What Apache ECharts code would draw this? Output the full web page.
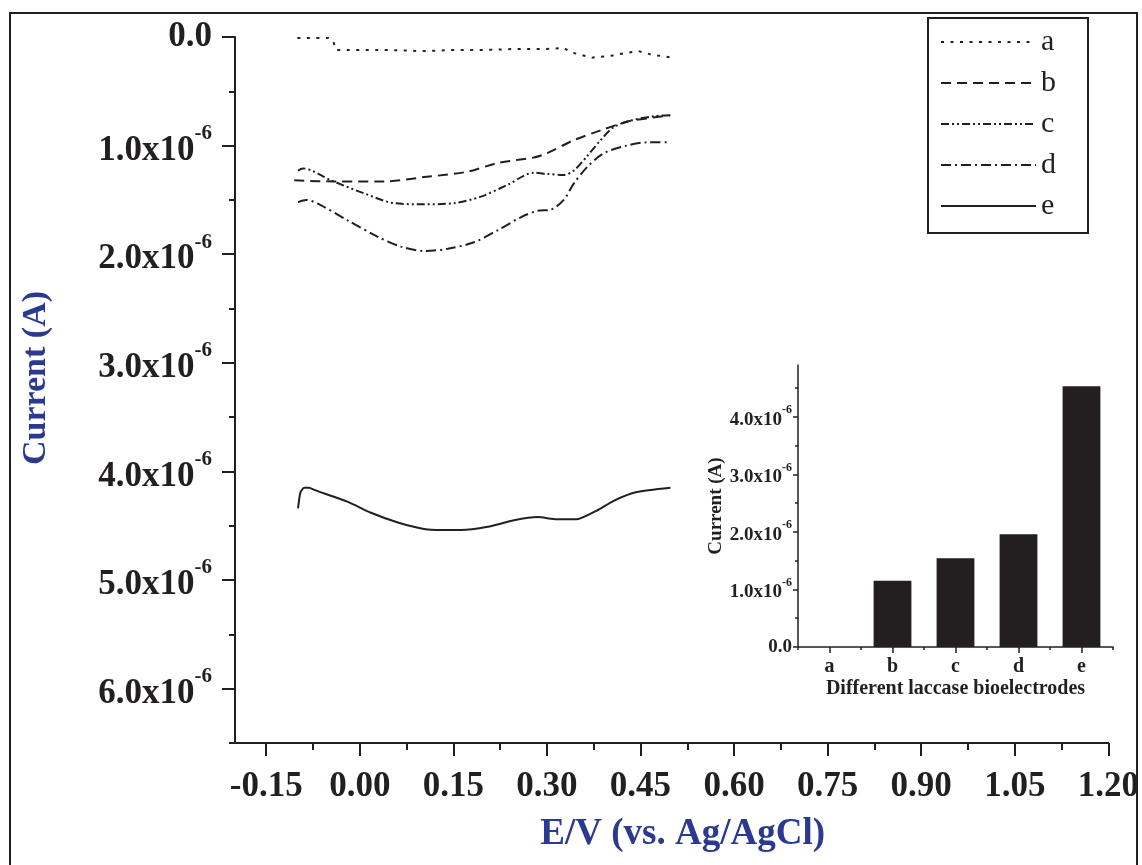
<!DOCTYPE html>
<html><head><meta charset="utf-8">
<script src="https://cdn.jsdelivr.net/npm/echarts@6/dist/echarts.min.js"></script>
<style>html,body{margin:0;padding:0;background:#fff}#c{width:1142px;height:865px}</style>
</head><body><div id="c"></div>
<script>
// Potential E (V) and current in units of 1e-6 A
const curveA = [[-0.1,0.01],[-0.05,0.01],[-0.043,0.03],[-0.038,0.12],[0.0,0.12],[0.05,0.12],[0.1,0.13],[0.15,0.12],[0.2,0.12],[0.25,0.11],[0.3,0.11],[0.327,0.10],[0.338,0.14],[0.372,0.19],[0.407,0.17],[0.423,0.15],[0.447,0.13],[0.466,0.16],[0.5,0.19]];
const curveB = [[-0.105,1.32],[-0.041,1.33],[0.039,1.33],[0.103,1.29],[0.173,1.24],[0.221,1.16],[0.279,1.11],[0.3,1.07],[0.343,0.95],[0.386,0.86],[0.428,0.78],[0.46,0.75],[0.498,0.72]];
const curveC = [[-0.099,1.23],[-0.091,1.21],[-0.046,1.32],[0.007,1.44],[0.055,1.53],[0.103,1.54],[0.151,1.53],[0.194,1.47],[0.237,1.36],[0.279,1.25],[0.3,1.26],[0.327,1.27],[0.343,1.23],[0.364,1.10],[0.386,0.95],[0.407,0.83],[0.434,0.77],[0.471,0.73],[0.498,0.72]];
const curveD = [[-0.099,1.52],[-0.086,1.50],[-0.062,1.55],[-0.019,1.69],[0.029,1.84],[0.066,1.93],[0.103,1.97],[0.141,1.95],[0.183,1.89],[0.221,1.78],[0.258,1.66],[0.285,1.60],[0.306,1.59],[0.327,1.50],[0.343,1.35],[0.364,1.20],[0.391,1.07],[0.428,1.00],[0.46,0.97],[0.498,0.97]];
const curveE = [[-0.099,4.34],[-0.095,4.19],[-0.089,4.15],[-0.081,4.15],[-0.073,4.17],[-0.019,4.28],[0.018,4.38],[0.061,4.47],[0.103,4.53],[0.13,4.54],[0.162,4.54],[0.205,4.51],[0.247,4.45],[0.285,4.42],[0.316,4.44],[0.348,4.44],[0.38,4.36],[0.407,4.27],[0.444,4.19],[0.498,4.15]];
const seriesNames = ['a','b','c','d','e'];

const insetCategories = ['a','b','c','d','e'];
const insetValues = [0, 1.15, 1.54, 1.96, 4.53];

const xMajorTicks = [-0.15, 0, 0.15, 0.3, 0.45, 0.6, 0.75, 0.9, 1.05, 1.2];
const xMinorTicks = [-0.075, 0.075, 0.225, 0.375, 0.525, 0.675, 0.825, 0.975, 1.125];
const yMajorTicks = [0, 1, 2, 3, 4, 5, 6];
const yMinorTicks = [0.5, 1.5, 2.5, 3.5, 4.5, 5.5, 6.5];
const insetYMajor = [0, 1, 2, 3, 4];
const insetYMinor = [0.5, 1.5, 2.5, 3.5, 4.5];

const F = 'Liberation Serif';
const K = '#231f20';
const BLUE = '#2b3990';

function sciRich(big, small, pad) {
  return {
    z: {fontSize: big, fontWeight: 'bold', fontFamily: F, color: K},
    n: {fontSize: big, fontWeight: 'bold', fontFamily: F, color: K, padding: [pad,0,0,0]},
    s: {fontSize: small, fontWeight: 'bold', fontFamily: F, color: K, verticalAlign: 'top'}
  };
}
function sciFmt(v) {
  return v === 0 ? '{z|0.0}' : '{n|' + v.toFixed(1) + 'x10}{s|-6}';
}

const dashes = {
  a: [3, 6.5],
  b: [10, 6],
  c: [8, 3, 2, 3, 2, 3],
  d: [10, 4, 2, 4],
  e: 'solid'
};
const curves = [curveA, curveB, curveC, curveD, curveE];
const smooths = [false, 0.3, 0.3, 0.3, 0.2];

const chart = echarts.init(document.getElementById('c'), null, {renderer: 'canvas'});
const lineSeries = curves.map((d, i) => ({
  name: seriesNames[i], type: 'line', xAxisIndex: 0, yAxisIndex: 0,
  data: d, symbol: 'none', smooth: smooths[i],
  lineStyle: {color: K, width: 2, type: dashes[seriesNames[i]]},
  itemStyle: {color: K}
}));

chart.setOption({
  animation: false,
  backgroundColor: '#fff',
  graphic: [{type: 'rect', silent: true, z: -1,
    shape: {x: 10, y: 13, width: 1127, height: 880},
    style: {fill: 'none', stroke: K, lineWidth: 2}}],
  legend: {
    data: seriesNames, orient: 'vertical', left: 928, top: 18,
    itemStyle: {opacity: 0, borderWidth: 0},
    lineStyle: {opacity: 1},
    itemWidth: 95, itemHeight: 20, itemGap: 11,
    padding: [9, 32, 12, 12], borderColor: K, borderWidth: 2,
    selectedMode: false,
    textStyle: {fontFamily: F, fontSize: 30, color: K}
  },
  grid: [
    {left: 235, top: 37, width: 874, height: 706},
    {left: 798, top: 365, width: 315, height: 282}
  ],
  xAxis: [
    {type: 'value', gridIndex: 0, min: -0.2, max: 1.2, position: 'bottom',
     axisLine: {show: true, onZero: false, lineStyle: {color: K, width: 2}},
     axisTick: {show: true, customValues: xMajorTicks, length: 13, lineStyle: {color: K, width: 2}},
     axisLabel: {customValues: xMajorTicks, formatter: v => v.toFixed(2), margin: 26,
       fontSize: 35, fontWeight: 'bold', fontFamily: F, color: K},
     splitLine: {show: false},
     name: 'E/V (vs. Ag/AgCl)', nameLocation: 'middle', nameGap: 73,
     nameTextStyle: {fontSize: 37, fontWeight: 'bold', fontFamily: F, color: BLUE, padding: [0,0,0,22]}},
    {type: 'value', gridIndex: 0, min: -0.2, max: 1.2, position: 'bottom',
     axisLine: {show: false, onZero: false},
     axisTick: {show: true, customValues: xMinorTicks, length: 7, lineStyle: {color: K, width: 2}},
     axisLabel: {show: false}, splitLine: {show: false}},
    {type: 'category', gridIndex: 1, data: insetCategories, position: 'bottom',
     axisLine: {show: true, onZero: false, lineStyle: {color: K, width: 1.5}},
     axisTick: {show: true, alignWithLabel: true, length: 6, lineStyle: {color: K, width: 1.5}},
     axisLabel: {margin: 10, fontSize: 20, fontWeight: 'bold', fontFamily: F, color: K},
     name: 'Different laccase bioelectrodes', nameLocation: 'middle', nameGap: 32,
     nameTextStyle: {fontSize: 20, fontWeight: 'bold', fontFamily: F, color: K}},
    {type: 'category', gridIndex: 1, data: insetCategories, position: 'bottom',
     axisLine: {show: false, onZero: false},
     axisTick: {show: true, length: 3, lineStyle: {color: K, width: 1.5}},
     axisLabel: {show: false}}
  ],
  yAxis: [
    {type: 'value', gridIndex: 0, min: 0, max: 6.5, inverse: true, position: 'left',
     axisLine: {show: true, onZero: false, lineStyle: {color: K, width: 2}},
     axisTick: {show: true, customValues: yMajorTicks, length: 13, lineStyle: {color: K, width: 2}},
     axisLabel: {customValues: yMajorTicks, formatter: sciFmt, margin: 23, rich: sciRich(35, 21, 10)},
     splitLine: {show: false},
     name: 'Current (A)', nameLocation: 'middle', nameGap: 182,
     nameTextStyle: {fontSize: 34, fontWeight: 'bold', fontFamily: F, color: BLUE, padding: [0,0,0,24]}},
    {type: 'value', gridIndex: 0, min: 0, max: 6.5, inverse: true, position: 'left',
     axisLine: {show: false, onZero: false},
     axisTick: {show: true, customValues: yMinorTicks, length: 6, lineStyle: {color: K, width: 2}},
     axisLabel: {show: false}, splitLine: {show: false}},
    {type: 'value', gridIndex: 1, min: 0, max: 4.9, position: 'left',
     axisLine: {show: true, onZero: false, lineStyle: {color: K, width: 1.5}},
     axisTick: {show: true, customValues: insetYMajor, length: 5, lineStyle: {color: K, width: 1.5}},
     axisLabel: {customValues: insetYMajor, formatter: sciFmt, margin: 6, rich: sciRich(19, 12, 6)},
     splitLine: {show: false},
     name: 'Current (A)', nameLocation: 'middle', nameGap: 70,
     nameTextStyle: {fontSize: 19, fontWeight: 'bold', fontFamily: F, color: K}},
    {type: 'value', gridIndex: 1, min: 0, max: 4.9, position: 'left',
     axisLine: {show: false, onZero: false},
     axisTick: {show: true, customValues: insetYMinor, length: 3, lineStyle: {color: K, width: 1.5}},
     axisLabel: {show: false}, splitLine: {show: false}}
  ],
  series: lineSeries.concat([{
    name: 'inset', type: 'bar', xAxisIndex: 2, yAxisIndex: 2,
    data: insetValues, barWidth: '60%', itemStyle: {color: K}
  }])
});
</script></body></html>
